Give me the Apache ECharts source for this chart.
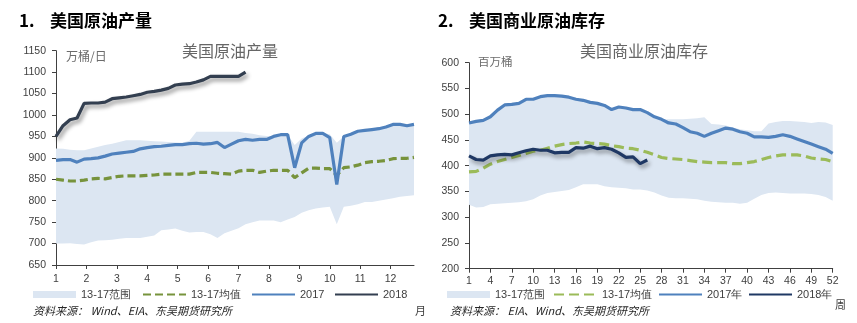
<!DOCTYPE html>
<html>
<head>
<meta charset="utf-8">
<script src="https://cdn.jsdelivr.net/npm/echarts@6/dist/echarts.min.js"></script>
<style>
html,body{margin:0;padding:0;background:#fff;}
#c{width:857px;height:323px;}
</style>
</head>
<body>
<div id="c"></div>
<script>
// ---------- Left chart: US crude oil production (万桶/日), weekly ----------
const prodMonthTicks = [1,2,3,4,5,6,7,8,9,10,11,12];
const prodRangeLow = [700,700,701,699,698,703,707,708,709,711,713,713,713,716,719,731,733,735,730,726,727,727,722,713,724,730,736,745,750,754,754,754,750,756,762,772,778,782,784,786,745,786,788,792,797,797,800,803,806,809,811,813];
const prodRangeHigh = [922,921,919,918,918,922,926,930,933,937,941,941,941,940,939,938,937,936,935,940,961,961,961,961,961,961,961,958,956,953,951,950,954,954,930,945,952,957,958,955,935,950,955,962,964,966,968,972,978,978,976,978];
const prodAvg = [850,848,846,846,848,851,852,851,854,857,858,858,858,859,860,862,862,862,862,862,866,866,866,864,863,862,869,871,871,866,869,871,871,871,854,865,876,876,875,875,859,877,879,883,889,891,892,894,898,899,899,901];
const prod2017 = [894,896,896,890,897,898,900,904,909,911,913,915,921,924,926,927,929,931,931,933,934,932,933,936,924,932,940,943,941,943,943,950,954,954,877,935,950,957,957,947,838,950,955,962,964,966,968,972,978,978,975,978];
const prod2018 = [950,975,989,993,1027,1028,1028,1030,1038,1040,1042,1045,1048,1053,1055,1058,1062,1070,1072,1073,1077,1082,1090,1090,1090,1090,1090,1100];

// ---------- Right chart: US commercial crude inventories (百万桶), weekly ----------
const stockWeekTicks = [1,4,7,10,13,16,19,22,25,28,31,34,37,40,43,46,49,52];
const stockRangeLow = [324,319,320,325,326,327,328,329,331,335,342,347,349,351,353,358,364,364,364,360,358,357,356,354,354,352,348,342,338,337,337,336,335,332,330,329,328,328,326,328,336,343,347,348,347,346,346,346,345,343,339,332];
const stockRangeHigh = [483,486,488,495,508,518,519,521,529,529,534,536,536,535,533,529,527,523,521,517,509,514,512,509,509,503,495,490,490,490,490,491,492,494,481,480,478,474,471,469,467,467,482,485,487,487,486,485,483,485,484,479];
const stockAvg = [388,389,395,403,408,412,416,420,424,428,430,434,438,441,443,444,446,444,443,442,439,437,434,433,430,426,421,416,414,413,412,410,408,407,406,406,406,404,404,406,408,412,416,419,421,421,421,419,415,413,412,408];
const stock2017 = [483,486,488,495,508,518,519,521,529,529,534,536,536,535,533,529,527,523,521,517,509,514,512,509,509,503,495,490,483,481,474,466,463,457,463,468,473,471,466,463,456,456,455,457,460,457,452,447,442,437,432,424];
const stock2018 = [419,412,411,419,421,422,421,425,429,432,430,430,425,426,426,435,434,438,433,435,432,425,416,417,404,411];

// week index -> month position on the left axis (52 weeks spread over 12 months)
const wkToMonth = i => 1 + i * 12 / 52;
const wkToWeek = i => i + 1;
const pairsL = arr => arr.map((v, i) => [wkToMonth(i), v]);
const pairsR = arr => arr.map((v, i) => [wkToWeek(i), v]);

const CJK = '"Noto Sans CJK SC", "Noto Sans", sans-serif';
const NUM = '"Liberation Sans", Arial, sans-serif';
const BAND = '#dce6f2';
const txtC = '#404040';

const chart = echarts.init(document.getElementById('c'), null, {renderer: 'canvas'});

function axisCommon() {
  return {
    axisLine: {show: true, lineStyle: {color: '#404040', width: 1}},
    axisTick: {show: true, length: 4, lineStyle: {color: '#404040'}},
    splitLine: {show: false}
  };
}

function bandSeries(name, axisIdx, xf, lo, hi) {
  return {
    name: name, type: 'custom', coordinateSystem: 'cartesian2d',
    xAxisIndex: axisIdx, yAxisIndex: axisIdx, silent: true, z: 1,
    itemStyle: {color: BAND},
    data: lo.map((v, i) => [xf(i), v, hi[i]]),
    encode: {x: 0, y: [1, 2]},
    renderItem: function (params, api) {
      if (params.dataIndex !== 0) return null;
      const pts = [];
      for (let i = 0; i < hi.length; i++) pts.push(api.coord([xf(i), hi[i]]));
      for (let i = lo.length - 1; i >= 0; i--) pts.push(api.coord([xf(i), lo[i]]));
      return {type: 'polygon', shape: {points: pts}, style: {fill: BAND, stroke: null}};
    }
  };
}

const legendBase = (left, name, rect) => ({
  left: left, top: 289, padding: 0,
  itemWidth: 43, itemHeight: rect ? 7 : 10,
  textStyle: {fontSize: 11, color: txtC, fontFamily: NUM, padding: [0,0,0,0]},
  data: rect ? [{name: name, icon: 'rect', itemStyle: {color: BAND}}]
             : [{name: name, itemStyle: {opacity: 0}}]
});

const option = {
  animation: false,
  title: [
    {text: '1.    美国原油产量', left: 19, top: 12, padding: 0, textStyle: {fontSize: 17, fontWeight: 'bold', color: '#000', fontFamily: CJK}},
    {text: '2.    美国商业原油库存', left: 438, top: 12, padding: 0, textStyle: {fontSize: 17, fontWeight: 'bold', color: '#000', fontFamily: CJK}},
    {text: '美国原油产量', left: 182, top: 43, padding: 0, textStyle: {fontSize: 16, fontWeight: 'normal', color: '#666', fontFamily: CJK}},
    {text: '美国商业原油库存', left: 580, top: 43, padding: 0, textStyle: {fontSize: 16, fontWeight: 'normal', color: '#666', fontFamily: CJK}},
    {text: '万桶/日', left: 66, top: 50, padding: 0, textStyle: {fontSize: 12, fontWeight: 'normal', color: '#6b6b6b', fontFamily: CJK}},
    {text: '百万桶', left: 478, top: 56, padding: 0, textStyle: {fontSize: 11.5, fontWeight: 'normal', color: '#6b6b6b', fontFamily: CJK}},
    {text: '资料来源： Wind、EIA、东吴期货研究所', left: 33, top: 305, padding: 0, textStyle: {fontSize: 11, fontStyle: 'italic', fontWeight: 'normal', color: '#262626', fontFamily: CJK}},
    {text: '资料来源： EIA、Wind、东吴期货研究所', left: 450, top: 305, padding: 0, textStyle: {fontSize: 11, fontStyle: 'italic', fontWeight: 'normal', color: '#262626', fontFamily: CJK}},
    {text: '月', left: 415, top: 305, padding: 0, textStyle: {fontSize: 11, fontWeight: 'normal', color: txtC, fontFamily: CJK}},
    {text: '周', left: 835, top: 299, padding: 0, textStyle: {fontSize: 11, fontWeight: 'normal', color: txtC, fontFamily: CJK}}
  ],
  legend: [
    legendBase(33, '13-17范围', true),
    legendBase(142, '13-17均值', false),
    legendBase(251, '2017', false),
    legendBase(334, '2018', false),
    legendBase(447, '13-17范围 ', true),
    legendBase(553, '13-17均值 ', false),
    legendBase(658, '2017年', false),
    legendBase(748, '2018年', false)
  ],
  grid: [
    {left: 56, top: 50.7, width: 358, height: 214.3},
    {left: 469, top: 62.7, width: 363.7, height: 206}
  ],
  xAxis: [
    Object.assign(axisCommon(), {
      type: 'value', gridIndex: 0, min: 1, max: wkToMonth(51), interval: 1,
      axisTick: {show: true, length: 4, lineStyle: {color: '#404040'}, customValues: prodMonthTicks},
      axisLabel: {customValues: prodMonthTicks, margin: 9, fontSize: 10.5, color: txtC, fontFamily: NUM}
    }),
    Object.assign(axisCommon(), {
      type: 'value', gridIndex: 1, min: 1, max: 52, interval: 3,
      axisTick: {show: true, length: 4, lineStyle: {color: '#404040'}, customValues: stockWeekTicks},
      axisLabel: {customValues: stockWeekTicks, margin: 7, fontSize: 10.5, color: txtC, fontFamily: NUM}
    })
  ],
  yAxis: [
    Object.assign(axisCommon(), {
      type: 'value', gridIndex: 0, min: 650, max: 1150, interval: 50,
      axisLabel: {margin: 10, fontSize: 10.5, color: txtC, fontFamily: NUM, formatter: v => String(v)}
    }),
    Object.assign(axisCommon(), {
      type: 'value', gridIndex: 1, min: 200, max: 600, interval: 50,
      axisLabel: {margin: 10, fontSize: 10.5, color: txtC, fontFamily: NUM, formatter: v => String(v)}
    })
  ],
  series: [
    bandSeries('13-17范围', 0, wkToMonth, prodRangeLow, prodRangeHigh),
    {name: '13-17均值', type: 'line', xAxisIndex: 0, yAxisIndex: 0, symbol: 'none',
     itemStyle: {color: '#77933c'}, lineStyle: {color: '#77933c', width: 3.2, type: [8, 4]},
     data: pairsL(prodAvg), z: 3},
    {name: '2017', type: 'line', xAxisIndex: 0, yAxisIndex: 0, symbol: 'none',
     itemStyle: {color: '#4f81bd'}, lineStyle: {color: '#4f81bd', width: 3.2},
     data: pairsL(prod2017), z: 4},
    {name: '2018', type: 'line', xAxisIndex: 0, yAxisIndex: 0, symbol: 'none',
     itemStyle: {color: '#333f50'}, lineStyle: {color: '#333f50', width: 3.2, shadowColor: 'rgba(0,0,0,0.45)', shadowBlur: 4, shadowOffsetX: 2, shadowOffsetY: 3},
     data: pairsL(prod2018), z: 5},

    bandSeries('13-17范围 ', 1, wkToWeek, stockRangeLow, stockRangeHigh),
    {name: '13-17均值 ', type: 'line', xAxisIndex: 1, yAxisIndex: 1, symbol: 'none',
     itemStyle: {color: '#9bbb59'}, lineStyle: {color: '#9bbb59', width: 3.2, type: [10, 5]},
     data: pairsR(stockAvg), z: 3},
    {name: '2017年', type: 'line', xAxisIndex: 1, yAxisIndex: 1, symbol: 'none',
     itemStyle: {color: '#4f81bd'}, lineStyle: {color: '#4f81bd', width: 3.2},
     data: pairsR(stock2017), z: 4},
    {name: '2018年', type: 'line', xAxisIndex: 1, yAxisIndex: 1, symbol: 'none',
     itemStyle: {color: '#1f3864'}, lineStyle: {color: '#1f3864', width: 3.2, shadowColor: 'rgba(0,0,0,0.4)', shadowBlur: 4, shadowOffsetX: 2, shadowOffsetY: 3},
     data: pairsR(stock2018), z: 5}
  ]
};
chart.setOption(option);
</script>
</body>
</html>
